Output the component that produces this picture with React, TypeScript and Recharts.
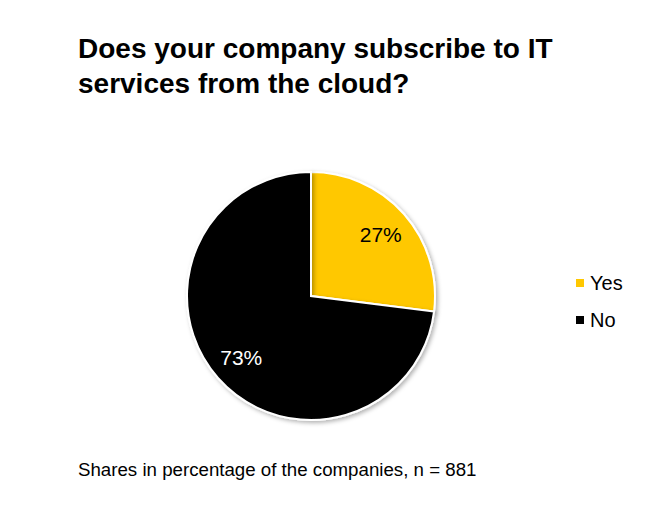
import { PieChart, Pie, Cell } from 'recharts';

const categories = ['Yes', 'No'];
const shares = [27, 73];
const colors = ['#FFC800', '#000000'];
const labelColors = ['#000000', '#ffffff'];

const data = categories.map((name, i) => ({ name, value: shares[i] }));

const FONT = 'Arial, "Liberation Sans", Helvetica, sans-serif';
const RAD = Math.PI / 180;

function renderLabel(props: any) {
  const { cx, cy, midAngle, outerRadius, index, value } = props;
  const r = outerRadius * 0.75;
  const x = cx + r * Math.cos(-midAngle * RAD);
  const y = cy + r * Math.sin(-midAngle * RAD);
  return (
    <text x={x} y={y} fill={labelColors[index]} fontSize={21} fontFamily={FONT}
          textAnchor="middle" dominantBaseline="central">
      {`${value}%`}
    </text>
  );
}

export default function App() {
  return (
    <div style={{ position: 'absolute', left: 0, top: 0, width: 646, height: 516, background: '#fff', fontFamily: FONT }}>
      <div style={{ position: 'absolute', left: 78, top: 31, fontSize: 28, fontWeight: 'bold', lineHeight: '35px', color: '#000', width: 560 }}>
        Does your company subscribe to IT<br />services from the cloud?
      </div>
      <div style={{ position: 'absolute', left: 0, top: 0 }}>
        <PieChart width={646} height={516} margin={{ top: 0, right: 0, bottom: 0, left: 0 }}>
          <defs>
            <filter id="shadow" x="-10%" y="-10%" width="130%" height="130%">
              <feDropShadow dx="2" dy="2" stdDeviation="2" floodColor="#000" floodOpacity="0.3" />
            </filter>
          </defs>
          <Pie data={data} dataKey="value" nameKey="name" cx={311} cy={296} outerRadius={124}
               startAngle={90} endAngle={-270} stroke="#fff" strokeWidth={2}
               label={renderLabel} labelLine={false} isAnimationActive={false}
               style={{ filter: 'url(#shadow)' }}>
            {data.map((_, i) => (
              <Cell key={i} fill={colors[i]} />
            ))}
          </Pie>
        </PieChart>
      </div>
      {categories.map((c, i) => (
        <div key={c} style={{ position: 'absolute', left: 576, top: 270 + i * 37, height: 26, display: 'flex', alignItems: 'center', fontSize: 20, color: '#000' }}>
          <span style={{ display: 'inline-block', width: 8, height: 8, background: colors[i], marginRight: 6 }} />
          {c}
        </div>
      ))}
      <div style={{ position: 'absolute', left: 78, top: 459, fontSize: 18.7, color: '#000' }}>
        Shares in percentage of the companies, n = 881
      </div>
    </div>
  );
}
